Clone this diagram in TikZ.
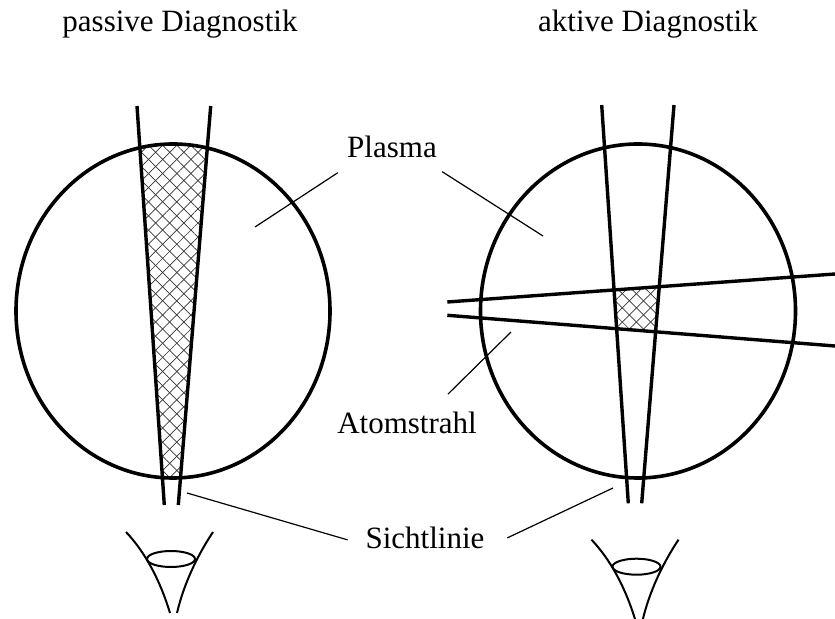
\documentclass[tikz,border=0pt]{standalone}
\usepackage{fontspec}
\setmainfont{Liberation Serif}
\usetikzlibrary{patterns.meta}

\tikzset{
  wand/.style={line width=1.8pt},
  strahl/.style={line width=1.7pt},
  zeiger/.style={line width=0.6pt},
  augenlinie/.style={line width=1pt},
  schrift/.style={font=\fontsize{15.5}{18}\selectfont, inner sep=0pt, anchor=base},
  kreuz/.style={pattern={Lines[angle=45,distance=5pt,line width=0.35pt]},
    pattern color=black!80,
    preaction={pattern={Lines[angle=-45,distance=5pt,line width=0.35pt]},
      pattern color=black!80}},
  auge/.pic={
    \draw[augenlinie] (-45,-27) .. controls (-26,-7) and (-11,21) .. (-1,54);
    \draw[augenlinie] (42,-27) .. controls (30,-9) and (14,20) .. (6,54);
    \draw[augenlinie] (0,0) ellipse [x radius=24, y radius=8];
  }
}

\begin{document}
\begin{tikzpicture}[x=0.5pt,y=-0.5pt]
  \useasboundingbox (0,0) rectangle (835,619);

  % Ueberschriften
  \node[schrift] (passiv) at (180,32) {passive Diagnostik};
  \node[schrift] (aktiv) at (648,32) {aktive Diagnostik};

  % Sichtlinien links
  \coordinate (p1o) at (137,106);  \coordinate (p1u) at (164.3,505);
  \coordinate (p2o) at (210.7,106); \coordinate (p2u) at (178.3,505);
  % Sichtlinien rechts
  \coordinate (a1o) at (601.7,105); \coordinate (a1u) at (628.3,503.3);
  \coordinate (a2o) at (674,105);   \coordinate (a2u) at (641.7,503.3);
  % Atomstrahl
  \coordinate (s1l) at (447.3,302);   \coordinate (s1r) at (835,274);
  \coordinate (s2l) at (447.3,315.3); \coordinate (s2r) at (835,346);

  % beobachtetes Volumen, passiv
  \begin{scope}
    \clip (173,311) ellipse [x radius=157, y radius=167];
    \fill[kreuz] (p1o) -- (p2o) -- (p2u) -- (p1u) -- cycle;
  \end{scope}
  % beobachtetes Volumen, aktiv
  \fill[kreuz] (intersection of a1o--a1u and s1l--s1r)
    -- (intersection of a2o--a2u and s1l--s1r)
    -- (intersection of a2o--a2u and s2l--s2r)
    -- (intersection of a1o--a1u and s2l--s2r) -- cycle;

  % Plasma
  \draw[wand] (173,311) ellipse [x radius=157, y radius=167];
  \draw[wand] (638,311) ellipse [x radius=157.5, y radius=167];

  \draw[strahl] (p1o) -- (p1u);
  \draw[strahl] (p2o) -- (p2u);
  \draw[strahl] (a1o) -- (a1u);
  \draw[strahl] (a2o) -- (a2u);
  \draw[strahl] (s1l) -- (s1r);
  \draw[strahl] (s2l) -- (s2r);

  % Augen
  \pic at (171,559) {auge};
  \pic at (636.5,566.7) {auge};

  % Beschriftung
  \node[schrift] (plasma) at (392,158) {Plasma};
  \node[schrift] (atom) at (407,434) {Atomstrahl};
  \node[schrift] (sicht) at (425,549) {Sichtlinie};

  \coordinate (pl-l) at (255,227);
  \coordinate (pl-r) at (543,236);
  \coordinate (at-r) at (511,332);
  \coordinate (si-l) at (187,493);
  \coordinate (si-r) at (613,488);

  \draw[zeiger] ([shift={(-9,14)}]plasma.south west) -- (pl-l);
  \draw[zeiger] ([shift={(5,13)}]plasma.south east) -- (pl-r);
  \draw[zeiger] ([shift={(41,-18)}]atom.north) -- (at-r);
  \draw[zeiger] ([shift={(-17.5,1.5)}]sicht.west) -- (si-l);
  \draw[zeiger] ([shift={(22.5,-0.5)}]sicht.east) -- (si-r);
\end{tikzpicture}
\end{document}
